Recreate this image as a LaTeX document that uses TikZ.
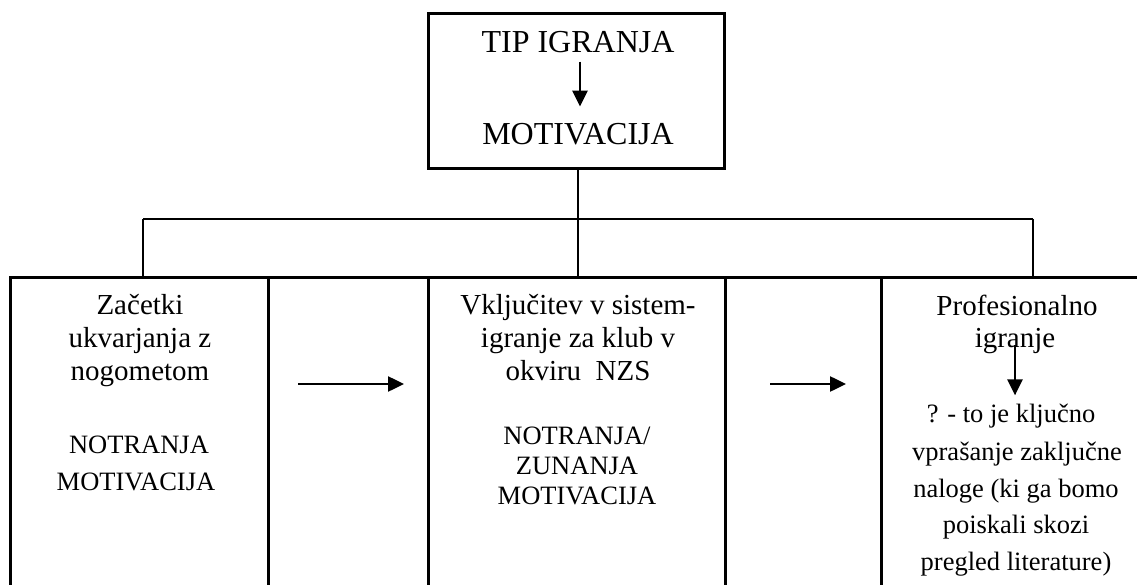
\documentclass[tikz,border=0pt]{standalone}
\usepackage{fontspec}
\setmainfont{Liberation Serif}
\usetikzlibrary{arrows.meta}
\begin{document}
\begin{tikzpicture}[x=1pt,y=-1pt,
 cellbox/.style={draw, line width=2.7pt, inner sep=0pt, anchor=north west},
 lbl/.style={anchor=base, inner sep=0pt},
 txtbig/.style={lbl, font=\fontsize{29}{34}\selectfont},
 txtsmall/.style={lbl, font=\fontsize{26.5}{30}\selectfont},
 txthead/.style={lbl, font=\fontsize{32}{36}\selectfont},
 arr/.style={-{Triangle[length=16pt,width=15pt]}, line width=2.5pt},
 link/.style={line width=2.7pt}]
\useasboundingbox (0,0) rectangle (1137,585);
% top box
\node[cellbox, minimum width=296pt, minimum height=155pt] (top) at (427,12) {};
\node[txthead] (t1) at (578,53) {TIP IGRANJA};
\node[txthead] (t2) at (578,145) {MOTIVACIJA};
\draw[arr] ([shift={(2pt,-8pt)}]t1.south) -- ([shift={(2pt,17pt)}]t2.north);
% table cells
\node[cellbox, minimum width=258pt, minimum height=330pt] (c1) at (9,276) {};
\node[cellbox, minimum width=160pt, minimum height=330pt] (c2) at (267,276) {};
\node[cellbox, minimum width=297pt, minimum height=330pt] (c3) at (427,276) {};
\node[cellbox, minimum width=156pt, minimum height=330pt] (c4) at (724,276) {};
\node[cellbox, minimum width=280pt, minimum height=330pt] (c5) at (880,276) {};
% bus
\coordinate (b1) at (143,219);
\coordinate (b2) at (578,219);
\coordinate (b3) at (1033,219);
\draw[link] (b2 |- top.south) -- (b2);
\draw[link] (b1) -- (b3);
\draw[link] (b1) -- (b1 |- c1.north);
\draw[link] (b2) -- (b2 |- c3.north);
\draw[link] (b3) -- (b3 |- c5.north);
% cell 1 text
\node[txtbig] (l1) at (140,314) {Začetki};
\node[txtbig] (l2) at (140,347) {ukvarjanja z};
\node[txtbig] (l3) at (140,380) {nogometom};
\node[txtsmall] (l4) at (139,453) {NOTRANJA};
\node[txtsmall] (l5) at (136,490) {MOTIVACIJA};
% cell 3 text
\node[txtbig] (m1) at (578,314) {Vključitev v sistem-};
\node[txtbig] (m2) at (578,347) {igranje za klub v};
\node[txtbig] (m3) at (578,380) {okviru\ \ NZS};
\node[txtsmall] (m4) at (577,444) {NOTRANJA/};
\node[txtsmall] (m5) at (577,474) {ZUNANJA};
\node[txtsmall] (m6) at (577,504) {MOTIVACIJA};
% cell 5 text
\node[txtbig] (r1) at (1017,315) {Profesionalno};
\node[txtbig] (r2) at (1015,347) {igranje};
\node[txtsmall] (r3) at (1011,422) {? - to je ključno};
\node[txtsmall] (r4) at (1017,460) {vprašanje zaključne};
\node[txtsmall] (r5) at (1016,497) {naloge (ki ga bomo};
\node[txtsmall] (r6) at (1016,533) {poiskali skozi};
\node[txtsmall] (r7) at (1016,570) {pregled literature)};
\draw[arr] ([yshift=2pt]r2.base) -- ([yshift=8pt]r3.north -| r2.base);
% horizontal arrows
\coordinate (h1a) at (298,384);
\coordinate (h1b) at (404,384);
\coordinate (h2a) at (770,384);
\coordinate (h2b) at (846,384);
\draw[arr] (h1a) -- (h1b);
\draw[arr] (h2a) -- (h2b);
\end{tikzpicture}
\end{document}
